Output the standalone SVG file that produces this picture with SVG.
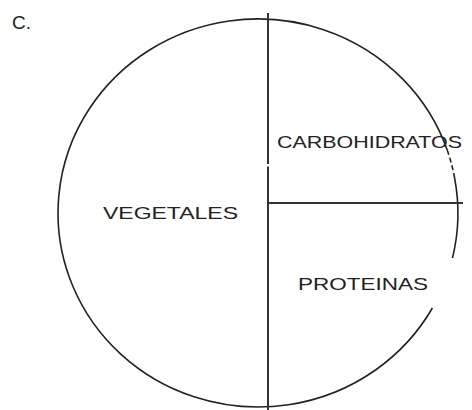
<svg xmlns="http://www.w3.org/2000/svg" width="472" height="410" viewBox="0 0 472 410">
<style>
.ln{fill:none;stroke:#222;stroke-width:1.6}
.ax{fill:none;stroke:#333;stroke-width:2}
.t{font-family:"Liberation Sans",Arial,sans-serif;font-size:17px;fill:#222}
</style>
<rect width="472" height="410" fill="#fff"/>
<text class="t" x="12" y="29" style="font-size:19px">C.</text>
<g id="plate">
<path class="ln" d="M432.4,308 A200,194 0 1 1 447.2,150"/>
<path class="ln" d="M447.2,150 A200,194 0 0 1 454.6,178" stroke-dasharray="5 3"/>
<path class="ln" d="M454.6,178 A200,194 0 0 1 452.5,258"/>
</g>
<g id="connectors">
<line class="ax" x1="268" y1="13" x2="268" y2="164"/>
<line class="ax" x1="268" y1="166.5" x2="268" y2="410"/>
<line class="ax" x1="268" y1="203" x2="463" y2="203"/>
</g>
<g id="carbohidratos"><text class="t" x="277" y="148" textLength="185" lengthAdjust="spacingAndGlyphs">CARBOHIDRATOS</text></g>
<g id="vegetales"><text class="t" x="103" y="219" textLength="135" lengthAdjust="spacingAndGlyphs">VEGETALES</text></g>
<g id="proteinas"><text class="t" x="298" y="290" textLength="130" lengthAdjust="spacingAndGlyphs">PROTEINAS</text></g>
</svg>
